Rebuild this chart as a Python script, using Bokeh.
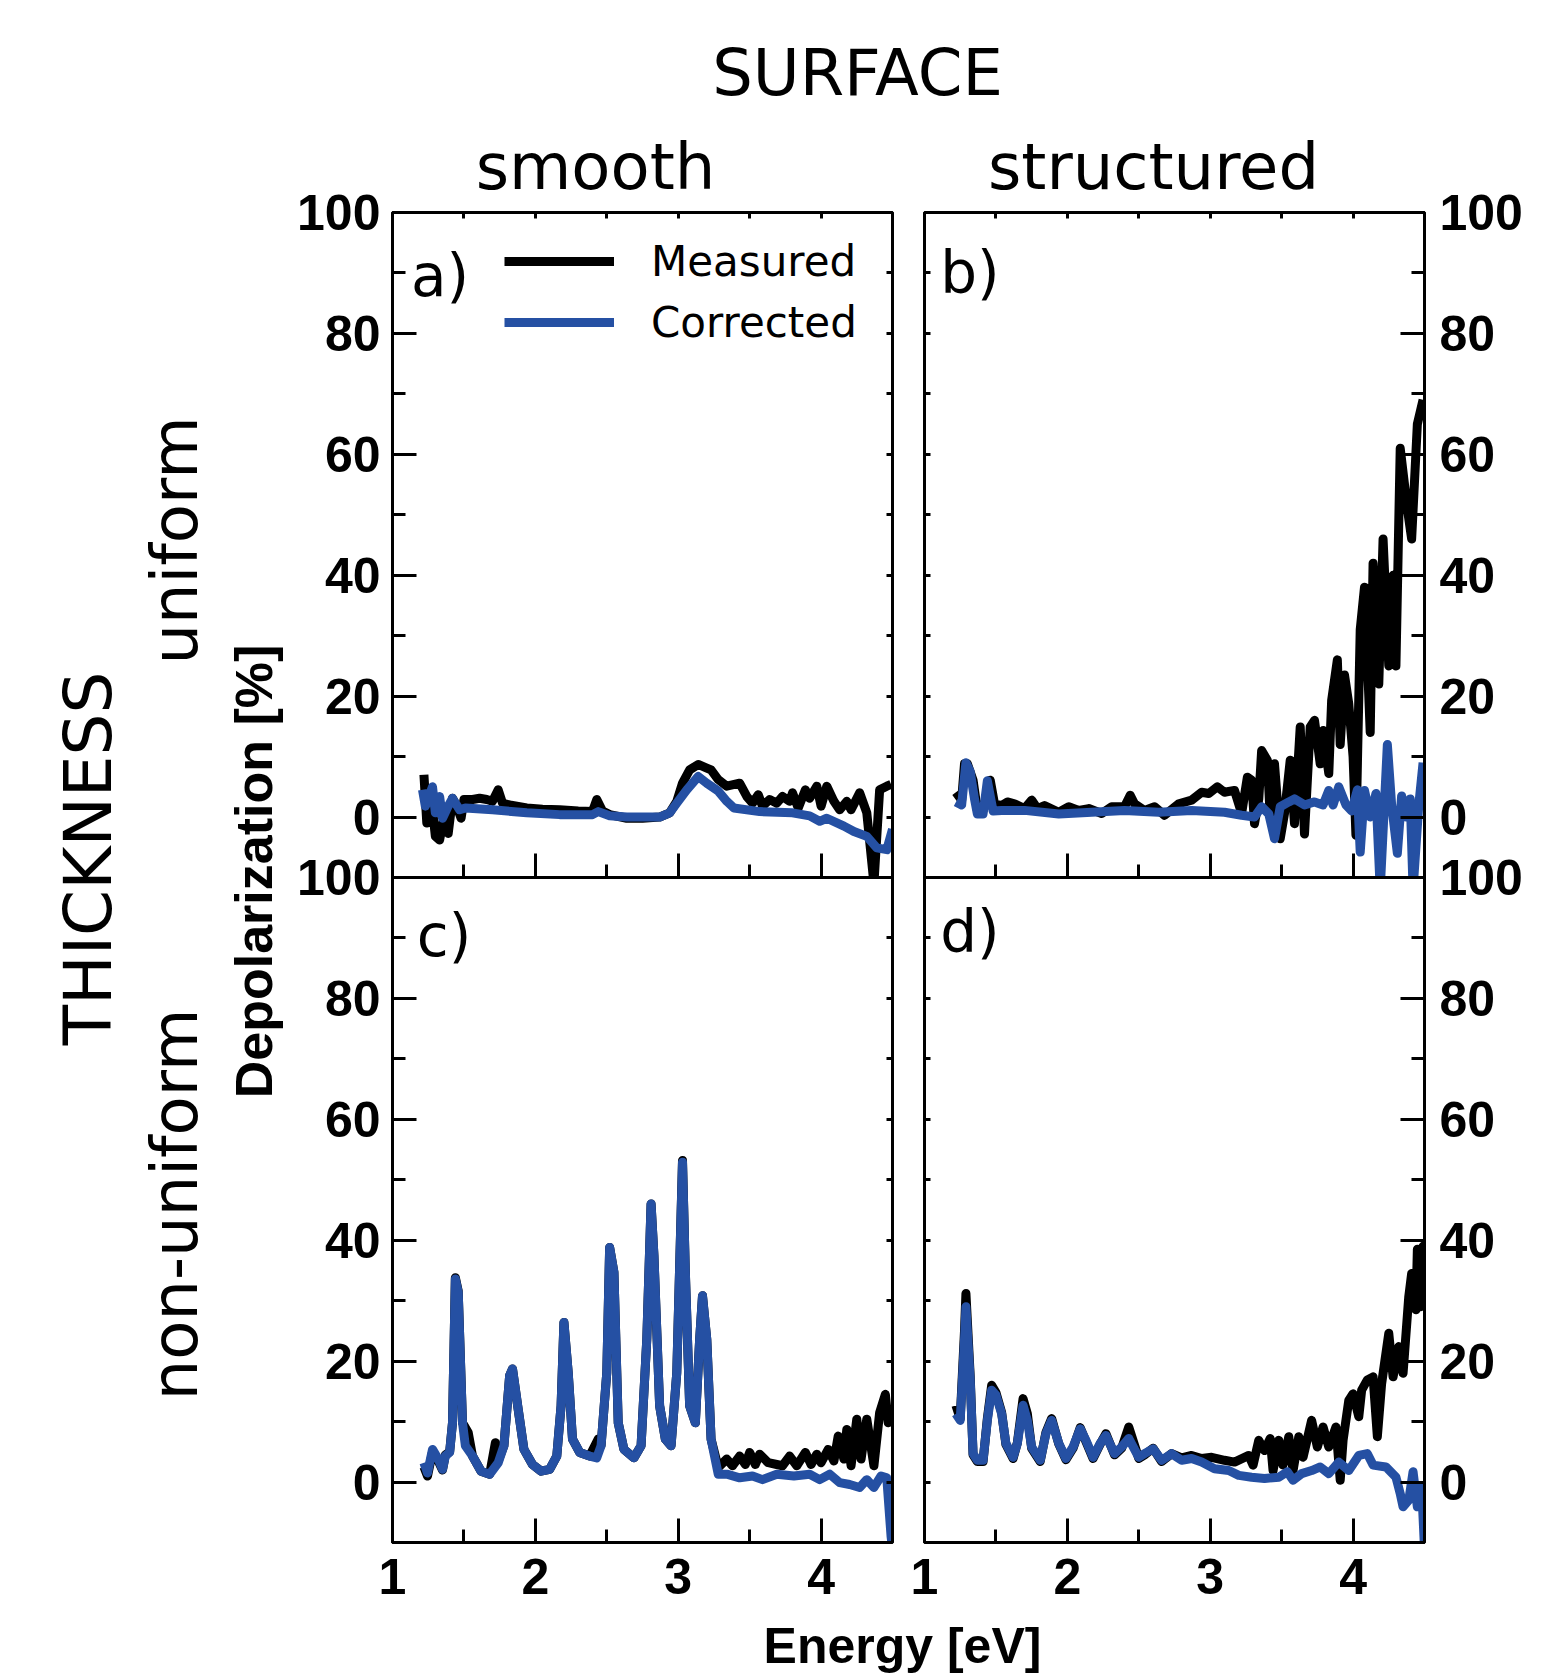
import math
from bokeh.plotting import figure
from bokeh.layouts import column
from bokeh.models import (Range1d, LinearAxis, FixedTicker, Legend, LegendItem,
                          Label, CustomJSTickFormatter)
from bokeh.embed import file_html
from bokeh.resources import INLINE

# ---------------- data ----------------
# panel a) smooth surface, uniform thickness
a_meas_E = [1.22, 1.24, 1.27, 1.30, 1.33, 1.36, 1.39, 1.42, 1.45, 1.48,
            1.50, 1.56, 1.61, 1.66, 1.70, 1.74, 1.77, 1.82, 1.94, 2.05,
            2.17, 2.30, 2.40, 2.43, 2.47, 2.52, 2.64, 2.75, 2.87, 2.94,
            2.99, 3.03, 3.08, 3.14, 3.20, 3.23, 3.28, 3.34, 3.43, 3.48,
            3.52, 3.56, 3.59, 3.64, 3.69, 3.73, 3.78, 3.80, 3.84, 3.89,
            3.92, 3.97, 4.00, 4.04, 4.09, 4.13, 4.18, 4.21, 4.27, 4.32,
            4.37, 4.41, 4.46, 4.49]
a_meas_D = [7.0, -1.0, 3.4, -3.2, -3.8, 0.1, -2.7, 3.1, 1.8, -0.2,
            2.9, 2.9, 3.1, 2.9, 2.6, 4.5, 2.3, 2.0, 1.5, 1.3,
            1.2, 1.0, 0.9, 2.9, 1.0, 0.4, -0.2, -0.2, 0.0, 0.7,
            2.6, 5.6, 7.8, 8.7, 8.1, 7.8, 6.2, 5.1, 5.6, 3.4,
            2.3, 3.7, 1.8, 2.9, 2.3, 3.4, 2.6, 4.0, 1.5, 4.5,
            3.1, 5.1, 1.8, 5.1, 2.6, 1.2, 2.6, 1.2, 4.0, 0.7,
            -11.0, 4.5, 5.1, 5.4]
a_corr_E = [1.21, 1.23, 1.28, 1.30, 1.33, 1.35, 1.39, 1.42, 1.47, 1.51,
            1.70, 1.94, 2.17, 2.40, 2.44, 2.52, 2.64, 2.87, 2.94, 2.99,
            3.06, 3.14, 3.20, 3.28, 3.34, 3.39, 3.57, 3.80, 3.92, 3.99,
            4.04, 4.16, 4.23, 4.32, 4.39, 4.46, 4.50]
a_corr_D = [4.5, 1.8, 5.0, 0.7, 3.4, -0.2, 1.8, 3.1, 1.2, 1.5,
            1.2, 0.7, 0.4, 0.4, 0.9, 0.2, 0.0, 0.0, 0.7, 2.3,
            4.5, 6.7, 5.6, 4.3, 2.6, 1.5, 0.9, 0.7, 0.2, -0.7,
            -0.2, -1.5, -2.4, -3.2, -5.1, -5.4, -2.0]

# panel b) structured surface, uniform thickness
b_meas_E = [1.22, 1.26, 1.28, 1.30, 1.34, 1.37, 1.41, 1.46, 1.49, 1.54,
            1.58, 1.63, 1.70, 1.75, 1.79, 1.84, 1.94, 2.01, 2.08, 2.15,
            2.24, 2.31, 2.40, 2.44, 2.47, 2.54, 2.61, 2.68, 2.78, 2.87,
            2.94, 2.99, 3.05, 3.10, 3.17, 3.22, 3.26, 3.29, 3.31, 3.34,
            3.36, 3.40, 3.42, 3.45, 3.49, 3.52, 3.56, 3.59, 3.63, 3.66,
            3.70, 3.73, 3.77, 3.79, 3.83, 3.85, 3.89, 3.91, 3.94, 3.97,
            4.00, 4.02, 4.05, 4.08, 4.12, 4.14, 4.18, 4.21, 4.25, 4.28,
            4.30, 4.33, 4.38, 4.41, 4.45, 4.49]
b_meas_D = [4.1, 2.8, 8.8, 8.8, 6.1, 1.1, 1.1, 6.1, 2.2, 1.9,
            2.5, 2.2, 1.4, 2.8, 1.4, 1.9, 0.8, 1.7, 1.1, 1.4,
            0.6, 1.7, 1.7, 3.6, 2.2, 1.1, 1.7, 0.3, 2.2, 2.8,
            4.1, 3.9, 5.0, 4.1, 4.4, 0.6, 6.6, 6.1, -1.1, 3.0,
            11.0, 9.4, 0.0, 8.8, -3.6, 0.6, 9.4, -1.1, 14.9, -2.8,
            14.9, 16.0, 8.8, 14.3, 7.2, 19.3, 26.0, 12.0, 23.5, 18.7,
            10.0, -3.0, 31.0, 38.0, 14.0, 42.0, 22.0, 46.0, 25.0, 40.0,
            25.0, 61.0, 51.0, 46.0, 65.0, 69.0]
b_corr_E = [1.22, 1.26, 1.29, 1.32, 1.35, 1.37, 1.41, 1.44, 1.48, 1.54,
            1.70, 1.94, 2.17, 2.40, 2.64, 2.87, 3.10, 3.22, 3.31, 3.36,
            3.41, 3.45, 3.49, 3.55, 3.59, 3.66, 3.73, 3.79, 3.83, 3.86,
            3.90, 3.95, 3.99, 4.03, 4.05, 4.08, 4.12, 4.16, 4.19, 4.24,
            4.27, 4.31, 4.34, 4.37, 4.40, 4.42, 4.46, 4.49]
b_corr_D = [2.5, 2.0, 9.0, 7.5, 3.0, 0.5, 0.5, 6.0, 1.0, 1.1,
            1.1, 0.5, 0.8, 1.1, 0.8, 1.1, 0.8, 0.3, 0.0, 1.7,
            0.5, -3.6, 1.7, 2.5, 3.0, 2.0, 2.5, 2.0, 4.4, 2.0,
            5.0, 2.0, 1.0, 4.5, -5.8, 4.4, 0.0, 3.9, -12.0, 12.0,
            2.0, -6.0, 3.5, 0.0, 3.0, -12.0, 2.0, 9.0]

# panel c) smooth surface, non-uniform thickness
c_meas_E = [1.22, 1.245, 1.28, 1.32, 1.35, 1.37, 1.40, 1.42, 1.44, 1.46,
            1.49, 1.53, 1.56, 1.62, 1.68, 1.72, 1.74, 1.78, 1.82, 1.84,
            1.88, 1.92, 1.98, 2.04, 2.10, 2.15, 2.18, 2.20, 2.23, 2.26,
            2.31, 2.38, 2.44, 2.46, 2.50, 2.52, 2.55, 2.58, 2.62, 2.69,
            2.74, 2.78, 2.81, 2.83, 2.87, 2.91, 2.95, 2.99, 3.03, 3.05,
            3.08, 3.12, 3.15, 3.17, 3.20, 3.23, 3.28, 3.34, 3.38, 3.43,
            3.47, 3.50, 3.54, 3.57, 3.63, 3.69, 3.73, 3.78, 3.83, 3.89,
            3.93, 3.97, 4.00, 4.05, 4.09, 4.12, 4.16, 4.18, 4.21, 4.25,
            4.28, 4.32, 4.37, 4.41, 4.45, 4.47, 4.49]
c_meas_D = [2.5, 1.0, 5.0, 3.5, 2.0, 4.5, 5.0, 9.8, 33.8, 31.6,
            9.8, 8.2, 4.3, 1.8, 1.3, 6.5, 3.5, 6.0, 17.6, 18.7,
            12.0, 5.4, 2.9, 1.8, 2.1, 4.3, 12.6, 26.4, 18.1, 7.1,
            4.9, 4.3, 7.1, 6.0, 18.1, 38.8, 34.7, 9.8, 5.4, 4.0,
            6.0, 23.6, 46.0, 37.5, 12.6, 7.1, 6.0, 18.1, 53.2, 34.7,
            12.6, 9.8, 23.6, 30.8, 23.6, 7.1, 2.4, 3.8, 2.7, 4.3,
            2.9, 4.9, 2.9, 4.6, 3.2, 2.9, 2.7, 4.3, 2.7, 4.9,
            2.9, 4.6, 3.2, 5.4, 3.5, 7.6, 3.8, 8.7, 2.7, 10.4,
            3.8, 10.4, 2.7, 11.5, 14.5, 9.8, 10.9]
c_corr_E = [1.22, 1.245, 1.28, 1.32, 1.35, 1.37, 1.40, 1.42, 1.44, 1.46,
            1.49, 1.51, 1.56, 1.62, 1.68, 1.74, 1.78, 1.82, 1.84, 1.88,
            1.92, 1.98, 2.04, 2.10, 2.15, 2.18, 2.20, 2.23, 2.26, 2.31,
            2.38, 2.43, 2.46, 2.50, 2.52, 2.55, 2.58, 2.62, 2.69, 2.74,
            2.78, 2.81, 2.83, 2.87, 2.91, 2.95, 2.99, 3.03, 3.05, 3.08,
            3.12, 3.15, 3.17, 3.20, 3.23, 3.28, 3.34, 3.43, 3.52, 3.59,
            3.69, 3.81, 3.92, 3.99, 4.06, 4.13, 4.20, 4.27, 4.32, 4.37,
            4.42, 4.46, 4.49, 4.50]
c_corr_D = [3.2, 1.5, 5.4, 3.8, 2.1, 4.3, 4.9, 9.8, 33.6, 31.4,
            9.8, 6.0, 4.3, 1.8, 1.3, 3.2, 6.0, 17.6, 18.7, 12.0,
            5.4, 2.9, 1.8, 2.1, 4.3, 12.6, 26.4, 18.1, 7.1, 4.9,
            4.3, 4.0, 6.0, 18.1, 38.8, 34.7, 9.8, 5.4, 4.0, 6.0,
            23.6, 46.0, 37.5, 12.6, 7.1, 6.0, 18.1, 52.9, 34.7, 12.6,
            9.8, 23.6, 30.8, 23.6, 7.1, 1.3, 1.3, 0.7, 1.0, 0.4,
            1.3, 1.0, 1.3, 0.4, 1.3, -0.1, -0.4, -0.9, 0.4, -0.9,
            1.0, 0.7, -9.0, -11.0]

# panel d) structured surface, non-uniform thickness
d_meas_E = [1.22, 1.25, 1.28, 1.29, 1.32, 1.34, 1.37, 1.41, 1.44, 1.47,
            1.50, 1.54, 1.57, 1.62, 1.65, 1.69, 1.72, 1.75, 1.81, 1.85,
            1.89, 1.94, 1.99, 2.04, 2.09, 2.13, 2.18, 2.23, 2.27, 2.33,
            2.38, 2.43, 2.50, 2.54, 2.60, 2.66, 2.73, 2.80, 2.87, 2.94,
            3.01, 3.10, 3.17, 3.27, 3.30, 3.34, 3.38, 3.42, 3.44, 3.48,
            3.51, 3.55, 3.58, 3.62, 3.65, 3.71, 3.75, 3.79, 3.83, 3.88,
            3.91, 3.93, 3.97, 4.00, 4.04, 4.06, 4.10, 4.14, 4.17, 4.20,
            4.25, 4.28, 4.32, 4.35, 4.39, 4.41, 4.44, 4.45, 4.47, 4.49,
            4.50]
d_meas_D = [12.7, 10.5, 25.0, 31.2, 17.5, 4.5, 3.4, 3.4, 10.5, 16.0,
            14.8, 11.5, 6.2, 3.9, 6.5, 13.8, 11.3, 5.6, 3.4, 8.2,
            10.5, 6.3, 3.7, 5.6, 9.0, 6.7, 3.9, 6.3, 8.0, 4.5,
            5.6, 9.1, 3.9, 4.5, 5.6, 3.4, 4.7, 4.0, 4.4, 3.9,
            4.1, 3.6, 3.3, 4.4, 2.8, 6.9, 5.2, 7.2, 1.9, 6.9,
            2.8, 7.5, 1.9, 7.5, 4.1, 10.2, 5.8, 9.1, 5.8, 9.1,
            0.3, 6.9, 13.5, 14.6, 10.8, 15.2, 16.9, 17.4, 7.5, 16.3,
            24.6, 17.4, 22.4, 18.0, 30.7, 34.5, 28.5, 38.5, 29.0, 39.0,
            30.0]
d_corr_E = [1.22, 1.25, 1.28, 1.29, 1.32, 1.34, 1.37, 1.41, 1.44, 1.47,
            1.50, 1.54, 1.57, 1.62, 1.65, 1.69, 1.72, 1.75, 1.81, 1.85,
            1.89, 1.94, 1.99, 2.04, 2.09, 2.13, 2.18, 2.23, 2.27, 2.33,
            2.38, 2.43, 2.50, 2.54, 2.60, 2.66, 2.73, 2.80, 2.87, 2.94,
            3.03, 3.13, 3.20, 3.29, 3.38, 3.48, 3.54, 3.58, 3.64, 3.71,
            3.77, 3.83, 3.90, 3.97, 4.04, 4.10, 4.14, 4.23, 4.30, 4.33,
            4.35, 4.39, 4.42, 4.45, 4.48, 4.50]
d_corr_D = [11.3, 10.2, 23.5, 29.0, 16.9, 4.7, 3.6, 3.6, 10.2, 15.2,
            14.4, 11.3, 6.4, 4.1, 6.4, 12.7, 10.2, 5.8, 3.6, 8.0,
            10.2, 6.4, 3.9, 5.8, 8.8, 6.9, 4.1, 6.4, 7.7, 4.7,
            5.8, 7.2, 4.1, 4.7, 5.5, 3.6, 4.7, 3.6, 3.9, 3.3,
            2.2, 1.9, 1.1, 0.8, 0.6, 0.8, 1.7, 0.3, 1.4, 1.9,
            2.5, 1.4, 3.3, 1.9, 4.4, 4.7, 2.8, 2.5, 0.8, -1.9,
            -4.1, -3.0, 1.7, -4.1, -0.8, -11.0]

series_names = ["Measured", "Corrected"]
panel_letters = ["a)", "b)", "c)", "d)"]
y_ticks = [0, 20, 40, 60, 80, 100]
y_minor = [-10, 10, 30, 50, 70, 90]
x_ticks = [1, 2, 3, 4]
x_minor = [1.5, 2.5, 3.5]
fine_x = [1.5, 2, 2.5, 3, 3.5, 4]
fine_y = [0, 10, 20, 30, 40, 50, 60, 70, 80, 90]

# ---------------- styling / layout ----------------
W, H = 1555, 1674
FW, FH = 500, 665
BLUE = "#2550a3"
LW = 9
LBL_FONT = "Liberation Sans"
TXT_FONT = "DejaVu Sans"


def add_axis(p, side, ticks, minor, tin, tmin, labels, standoff=12):
    ax = LinearAxis(ticker=FixedTicker(ticks=ticks, minor_ticks=minor))
    ax.axis_line_width = 3
    ax.axis_line_color = "black"
    ax.major_tick_in = tin
    ax.major_tick_out = 0
    ax.minor_tick_in = tmin
    ax.minor_tick_out = 0
    ax.major_tick_line_width = 3
    ax.minor_tick_line_width = 3
    if labels:
        ax.major_label_text_font = LBL_FONT
        ax.major_label_text_font_style = "bold"
        ax.major_label_text_font_size = "50px"
        ax.major_label_text_color = "black"
        ax.major_label_standoff = standoff
    else:
        ax.formatter = CustomJSTickFormatter(code="return '';")
        ax.major_label_standoff = 0
        ax.major_label_text_font_size = "1px"
    p.add_layout(ax, side)
    return ax


def base_fig(**kw):
    p = figure(width=W, height=H, output_backend="svg", toolbar_location=None,
               title=None, x_axis_location=None, y_axis_location=None,
               min_border=0, frame_align=False, **kw)
    p.xgrid.visible = False
    p.ygrid.visible = False
    p.background_fill_color = None
    p.border_fill_color = None
    return p


def make_panel(left, top, mE, mD, cE, cD, letter, letter_xy,
               ylab_side, top_row, legend=False):
    p = base_fig(x_range=Range1d(1, 4.5), y_range=Range1d(-10, 100),
                 min_border_left=left, min_border_right=W - left - FW,
                 min_border_top=top, min_border_bottom=H - top - FH,
                 margin=(-H, 0, 0, 0))
    p.outline_line_color = "black"
    p.outline_line_width = 3

    add_axis(p, "below", x_ticks, x_minor, 24, 13, not top_row, standoff=16)
    if top_row:
        add_axis(p, "above", fine_x, [], 6, 0, False)
    if ylab_side == "left":
        add_axis(p, "left", y_ticks, y_minor, 24, 13, True, standoff=12)
        add_axis(p, "right", fine_y, [], 6, 0, False)
    else:
        add_axis(p, "right", y_ticks, y_minor, 24, 13, True, standoff=15)
        add_axis(p, "left", fine_y, [], 6, 0, False)

    r1 = p.line(mE, mD, line_color="black", line_width=LW, line_join="round")
    r2 = p.line(cE, cD, line_color=BLUE, line_width=LW, line_join="round")

    p.add_layout(Label(x=letter_xy[0], y=letter_xy[1], text=letter,
                       text_font=TXT_FONT, text_font_size="58px",
                       text_color="black", text_baseline="alphabetic"))
    if legend:
        lg = Legend(items=[LegendItem(label=series_names[0], renderers=[r1]),
                           LegendItem(label=series_names[1], renderers=[r2])],
                    location=(112, 530), padding=0, spacing=11, margin=0,
                    glyph_width=110, glyph_height=50, label_height=50,
                    label_standoff=37, label_text_font=TXT_FONT,
                    label_text_font_size="42px", label_text_color="black",
                    border_line_color=None, background_fill_alpha=0)
        p.add_layout(lg)
    return p


pa = make_panel(392, 212, a_meas_E, a_meas_D, a_corr_E, a_corr_D,
                panel_letters[0], (1.13, 89.5), "left", True, legend=True)
pb = make_panel(924, 212, b_meas_E, b_meas_D, b_corr_E, b_corr_D,
                panel_letters[1], (1.11, 90.0), "right", True)
pc = make_panel(392, 877, c_meas_E, c_meas_D, c_corr_E, c_corr_D,
                panel_letters[2], (1.17, 90.3), "left", False)
pd_ = make_panel(924, 877, d_meas_E, d_meas_D, d_corr_E, d_corr_D,
                 panel_letters[3], (1.11, 91.0), "right", False)

# text layer in page-pixel coordinates (y measured upward from the bottom)
t = base_fig(x_range=Range1d(0, W), y_range=Range1d(0, H))
t.outline_line_color = None


def lab(x, y, text, size, font=TXT_FONT, bold=False, angle=0.0):
    t.add_layout(Label(x=x, y=H - y, text=text, text_font=font,
                       text_font_size=size, text_color="black",
                       text_font_style="bold" if bold else "normal",
                       text_align="center", text_baseline="alphabetic",
                       angle=angle))


lab(857, 72, "SURFACE", "64px")
lab(595, 166, "smooth", "64px")
lab(1153, 166, "structured", "64px")
lab(88, 858, "THICKNESS", "66px", angle=math.pi / 2)
lab(174, 540, "uniform", "64px", angle=math.pi / 2)
lab(174, 1204, "non-uniform", "64px", angle=math.pi / 2)
lab(253, 871, "Depolarization [%]", "52px", font=LBL_FONT, bold=True,
    angle=math.pi / 2)
lab(902, 1645, "Energy [eV]", "50px", font=LBL_FONT, bold=True)

layout = column(t, pa, pb, pc, pd_, spacing=0)

open("out.html", "w").write(file_html(layout, INLINE))
